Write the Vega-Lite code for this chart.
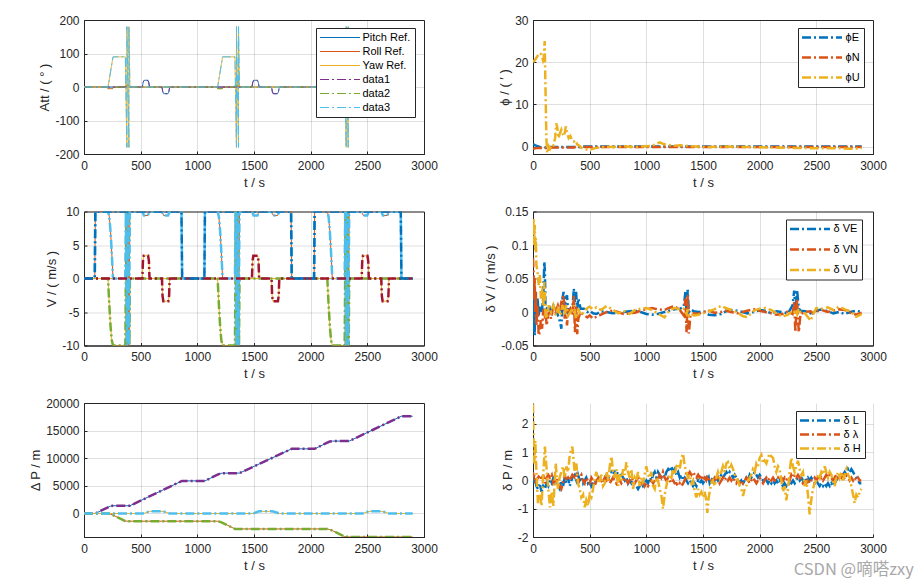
{
"$schema":"https://vega.github.io/schema/vega-lite/v6.json",
"padding":{"left":29,"top":13,"right":5,"bottom":5},
"columns":2,
"spacing":{"row":57.5,"column":109},
"bounds":"flush",
"title":{"text":"CSDN @嘀嗒zxy","orient":"bottom","anchor":"end","font":"Noto Sans CJK SC","fontSize":16.5,"fontWeight":"normal","color":"#a8a8a8","offset":-11,"dx":27},
"resolve":{"scale":{"color":"independent","strokeDash":"independent","strokeWidth":"independent"},"legend":{"color":"independent","strokeDash":"independent","strokeWidth":"independent"}},
"config":{
 "font":"Liberation Sans",
 "locale":{"number":{"decimal":".","thousands":",","grouping":[3],"currency":["$",""],"minus":"-"}},
 "view":{"stroke":"#262626","strokeWidth":1},
 "axis":{"domainColor":"#262626","tickColor":"#262626","labelColor":"#262626","titleColor":"#262626","labelFontSize":12,"titleFontSize":13,"titleFontWeight":"normal","gridColor":"#262626","gridOpacity":0.15,"tickSize":-3,"grid":true,"labelFlush":false,"labelOverlap":false},
 "axisX":{"labelPadding":9,"titlePadding":5},
 "axisY":{"labelPadding":8,"titlePadding":3},
 "legend":{"orient":"none","fillColor":"#ffffff","strokeColor":"#262626","labelFontSize":11,"labelColor":"#000000","padding":4,"symbolType":"M0,0L10,0","symbolSize":64,"symbolOffset":-5.5,"labelOffset":38},
 "line":{"strokeCap":"butt"}
},
"datasets":{
"att":[
{"t":0,"s":"Pitch Ref.","v":0},{"t":515,"s":"Pitch Ref.","v":0},{"t":522,"s":"Pitch Ref.","v":14},{"t":530,"s":"Pitch Ref.","v":20},{"t":563,"s":"Pitch Ref.","v":20},{"t":571,"s":"Pitch Ref.","v":14},{"t":578,"s":"Pitch Ref.","v":0},{"t":688,"s":"Pitch Ref.","v":0},{"t":695,"s":"Pitch Ref.","v":-14},{"t":703,"s":"Pitch Ref.","v":-20},{"t":741,"s":"Pitch Ref.","v":-20},{"t":749,"s":"Pitch Ref.","v":-14},{"t":756,"s":"Pitch Ref.","v":0},{"t":1482,"s":"Pitch Ref.","v":0},{"t":1489,"s":"Pitch Ref.","v":14},{"t":1497,"s":"Pitch Ref.","v":20},{"t":1530,"s":"Pitch Ref.","v":20},{"t":1538,"s":"Pitch Ref.","v":14},{"t":1545,"s":"Pitch Ref.","v":0},{"t":1655,"s":"Pitch Ref.","v":0},{"t":1662,"s":"Pitch Ref.","v":-14},{"t":1670,"s":"Pitch Ref.","v":-20},{"t":1708,"s":"Pitch Ref.","v":-20},{"t":1716,"s":"Pitch Ref.","v":-14},{"t":1723,"s":"Pitch Ref.","v":0},{"t":2450,"s":"Pitch Ref.","v":0},{"t":2457,"s":"Pitch Ref.","v":14},{"t":2465,"s":"Pitch Ref.","v":20},{"t":2498,"s":"Pitch Ref.","v":20},{"t":2506,"s":"Pitch Ref.","v":14},{"t":2513,"s":"Pitch Ref.","v":0},{"t":2623,"s":"Pitch Ref.","v":0},{"t":2630,"s":"Pitch Ref.","v":-14},{"t":2638,"s":"Pitch Ref.","v":-20},{"t":2676,"s":"Pitch Ref.","v":-20},{"t":2684,"s":"Pitch Ref.","v":-14},{"t":2691,"s":"Pitch Ref.","v":0},{"t":2900,"s":"Pitch Ref.","v":0},
{"t":0,"s":"Roll Ref.","v":0},{"t":206,"s":"Roll Ref.","v":0},{"t":212,"s":"Roll Ref.","v":-5},{"t":252,"s":"Roll Ref.","v":-5},{"t":258,"s":"Roll Ref.","v":0},{"t":362,"s":"Roll Ref.","v":0},{"t":367,"s":"Roll Ref.","v":5},{"t":402,"s":"Roll Ref.","v":5},{"t":407,"s":"Roll Ref.","v":0},{"t":1173,"s":"Roll Ref.","v":0},{"t":1179,"s":"Roll Ref.","v":-5},{"t":1219,"s":"Roll Ref.","v":-5},{"t":1225,"s":"Roll Ref.","v":0},{"t":1329,"s":"Roll Ref.","v":0},{"t":1334,"s":"Roll Ref.","v":5},{"t":1369,"s":"Roll Ref.","v":5},{"t":1374,"s":"Roll Ref.","v":0},{"t":2141,"s":"Roll Ref.","v":0},{"t":2147,"s":"Roll Ref.","v":-5},{"t":2187,"s":"Roll Ref.","v":-5},{"t":2193,"s":"Roll Ref.","v":0},{"t":2297,"s":"Roll Ref.","v":0},{"t":2302,"s":"Roll Ref.","v":5},{"t":2337,"s":"Roll Ref.","v":5},{"t":2342,"s":"Roll Ref.","v":0},{"t":2900,"s":"Roll Ref.","v":0},
{"t":0,"s":"Yaw Ref.","v":0},{"t":212,"s":"Yaw Ref.","v":0},{"t":256,"s":"Yaw Ref.","v":90},{"t":365,"s":"Yaw Ref.","v":90},{"t":369.4,"s":"Yaw Ref.","v":0},{"t":373.9,"s":"Yaw Ref.","v":-90},{"t":378.3,"s":"Yaw Ref.","v":-180},{"t":378.4,"s":"Yaw Ref.","v":180},{"t":382.8,"s":"Yaw Ref.","v":90},{"t":387.2,"s":"Yaw Ref.","v":0},{"t":391.7,"s":"Yaw Ref.","v":-90},{"t":396.1,"s":"Yaw Ref.","v":-180},{"t":396.2,"s":"Yaw Ref.","v":180},{"t":400.6,"s":"Yaw Ref.","v":90},{"t":405,"s":"Yaw Ref.","v":0},{"t":1179,"s":"Yaw Ref.","v":0},{"t":1223,"s":"Yaw Ref.","v":90},{"t":1332,"s":"Yaw Ref.","v":90},{"t":1336.4,"s":"Yaw Ref.","v":0},{"t":1340.9,"s":"Yaw Ref.","v":-90},{"t":1345.3,"s":"Yaw Ref.","v":-180},{"t":1345.4,"s":"Yaw Ref.","v":180},{"t":1349.8,"s":"Yaw Ref.","v":90},{"t":1354.2,"s":"Yaw Ref.","v":0},{"t":1358.7,"s":"Yaw Ref.","v":-90},{"t":1363.1,"s":"Yaw Ref.","v":-180},{"t":1363.2,"s":"Yaw Ref.","v":180},{"t":1367.6,"s":"Yaw Ref.","v":90},{"t":1372,"s":"Yaw Ref.","v":0},{"t":2147,"s":"Yaw Ref.","v":0},{"t":2191,"s":"Yaw Ref.","v":90},{"t":2300,"s":"Yaw Ref.","v":90},{"t":2304.4,"s":"Yaw Ref.","v":0},{"t":2308.9,"s":"Yaw Ref.","v":-90},{"t":2313.3,"s":"Yaw Ref.","v":-180},{"t":2313.4,"s":"Yaw Ref.","v":180},{"t":2317.8,"s":"Yaw Ref.","v":90},{"t":2322.2,"s":"Yaw Ref.","v":0},{"t":2326.7,"s":"Yaw Ref.","v":-90},{"t":2331.1,"s":"Yaw Ref.","v":-180},{"t":2331.2,"s":"Yaw Ref.","v":180},{"t":2335.6,"s":"Yaw Ref.","v":90},{"t":2340,"s":"Yaw Ref.","v":0},{"t":2900,"s":"Yaw Ref.","v":0},
{"t":0,"s":"data1","v":0},{"t":515,"s":"data1","v":0},{"t":522,"s":"data1","v":14},{"t":530,"s":"data1","v":20},{"t":563,"s":"data1","v":20},{"t":571,"s":"data1","v":14},{"t":578,"s":"data1","v":0},{"t":688,"s":"data1","v":0},{"t":695,"s":"data1","v":-14},{"t":703,"s":"data1","v":-20},{"t":741,"s":"data1","v":-20},{"t":749,"s":"data1","v":-14},{"t":756,"s":"data1","v":0},{"t":1482,"s":"data1","v":0},{"t":1489,"s":"data1","v":14},{"t":1497,"s":"data1","v":20},{"t":1530,"s":"data1","v":20},{"t":1538,"s":"data1","v":14},{"t":1545,"s":"data1","v":0},{"t":1655,"s":"data1","v":0},{"t":1662,"s":"data1","v":-14},{"t":1670,"s":"data1","v":-20},{"t":1708,"s":"data1","v":-20},{"t":1716,"s":"data1","v":-14},{"t":1723,"s":"data1","v":0},{"t":2450,"s":"data1","v":0},{"t":2457,"s":"data1","v":14},{"t":2465,"s":"data1","v":20},{"t":2498,"s":"data1","v":20},{"t":2506,"s":"data1","v":14},{"t":2513,"s":"data1","v":0},{"t":2623,"s":"data1","v":0},{"t":2630,"s":"data1","v":-14},{"t":2638,"s":"data1","v":-20},{"t":2676,"s":"data1","v":-20},{"t":2684,"s":"data1","v":-14},{"t":2691,"s":"data1","v":0},{"t":2900,"s":"data1","v":0},
{"t":0,"s":"data2","v":0},{"t":206,"s":"data2","v":0},{"t":212,"s":"data2","v":-5},{"t":252,"s":"data2","v":-5},{"t":258,"s":"data2","v":0},{"t":362,"s":"data2","v":0},{"t":367,"s":"data2","v":5},{"t":402,"s":"data2","v":5},{"t":407,"s":"data2","v":0},{"t":1173,"s":"data2","v":0},{"t":1179,"s":"data2","v":-5},{"t":1219,"s":"data2","v":-5},{"t":1225,"s":"data2","v":0},{"t":1329,"s":"data2","v":0},{"t":1334,"s":"data2","v":5},{"t":1369,"s":"data2","v":5},{"t":1374,"s":"data2","v":0},{"t":2141,"s":"data2","v":0},{"t":2147,"s":"data2","v":-5},{"t":2187,"s":"data2","v":-5},{"t":2193,"s":"data2","v":0},{"t":2297,"s":"data2","v":0},{"t":2302,"s":"data2","v":5},{"t":2337,"s":"data2","v":5},{"t":2342,"s":"data2","v":0},{"t":2900,"s":"data2","v":0},
{"t":0,"s":"data3","v":0},{"t":212,"s":"data3","v":0},{"t":256,"s":"data3","v":90},{"t":365,"s":"data3","v":90},{"t":369.4,"s":"data3","v":0},{"t":373.9,"s":"data3","v":-90},{"t":378.3,"s":"data3","v":-180},{"t":378.4,"s":"data3","v":180},{"t":382.8,"s":"data3","v":90},{"t":387.2,"s":"data3","v":0},{"t":391.7,"s":"data3","v":-90},{"t":396.1,"s":"data3","v":-180},{"t":396.2,"s":"data3","v":180},{"t":400.6,"s":"data3","v":90},{"t":405,"s":"data3","v":0},{"t":1179,"s":"data3","v":0},{"t":1223,"s":"data3","v":90},{"t":1332,"s":"data3","v":90},{"t":1336.4,"s":"data3","v":0},{"t":1340.9,"s":"data3","v":-90},{"t":1345.3,"s":"data3","v":-180},{"t":1345.4,"s":"data3","v":180},{"t":1349.8,"s":"data3","v":90},{"t":1354.2,"s":"data3","v":0},{"t":1358.7,"s":"data3","v":-90},{"t":1363.1,"s":"data3","v":-180},{"t":1363.2,"s":"data3","v":180},{"t":1367.6,"s":"data3","v":90},{"t":1372,"s":"data3","v":0},{"t":2147,"s":"data3","v":0},{"t":2191,"s":"data3","v":90},{"t":2300,"s":"data3","v":90},{"t":2304.4,"s":"data3","v":0},{"t":2308.9,"s":"data3","v":-90},{"t":2313.3,"s":"data3","v":-180},{"t":2313.4,"s":"data3","v":180},{"t":2317.8,"s":"data3","v":90},{"t":2322.2,"s":"data3","v":0},{"t":2326.7,"s":"data3","v":-90},{"t":2331.1,"s":"data3","v":-180},{"t":2331.2,"s":"data3","v":180},{"t":2335.6,"s":"data3","v":90},{"t":2340,"s":"data3","v":0},{"t":2900,"s":"data3","v":0}
],
"phi":[
{"t":0,"E":0.6,"N":-0.5,"U":20},{"t":20,"E":0.3,"N":-0.4,"U":20.6},{"t":40,"E":0.1,"N":-0.3,"U":21.5},{"t":60,"E":-0.1,"N":-0.3,"U":22.2},{"t":75,"E":-0.2,"N":-0.3,"U":21.8},{"t":88,"E":-0.2,"N":-0.3,"U":20.5},{"t":95,"E":-0.2,"N":-0.3,"U":21.2},{"t":103,"E":-0.2,"N":-0.3,"U":25},{"t":110,"E":-0.2,"N":-0.3,"U":14},{"t":118,"E":-0.2,"N":-0.3,"U":2},{"t":125,"E":-0.1,"N":-0.3,"U":-1.5},{"t":132,"E":-0.1,"N":-0.3,"U":-1.2},{"t":140,"E":-0.1,"N":-0.3,"U":0},{"t":150,"E":-0.1,"N":-0.3,"U":-0.5},{"t":165,"E":-0.1,"N":-0.2,"U":0.5},{"t":180,"E":-0.1,"N":-0.2,"U":0.3},{"t":195,"E":-0.1,"N":-0.2,"U":2},{"t":205,"E":-0.1,"N":-0.2,"U":5.5},{"t":215,"E":-0.1,"N":-0.2,"U":4.5},{"t":225,"E":-0.1,"N":-0.2,"U":2},{"t":235,"E":-0.1,"N":-0.2,"U":3},{"t":250,"E":-0.1,"N":-0.2,"U":4},{"t":262,"E":-0.1,"N":-0.2,"U":3},{"t":275,"E":-0.1,"N":-0.2,"U":2.5},{"t":290,"E":-0.1,"N":-0.2,"U":4.8},{"t":300,"E":-0.1,"N":-0.2,"U":3.5},{"t":315,"E":-0.1,"N":-0.2,"U":2},{"t":330,"E":-0.1,"N":-0.2,"U":2.5},{"t":345,"E":-0.1,"N":-0.2,"U":1.5},{"t":360,"E":-0.1,"N":-0.2,"U":1.2},{"t":375,"E":-0.1,"N":-0.1,"U":1.5},{"t":390,"E":-0.1,"N":-0.1,"U":0.5},{"t":410,"E":-0.1,"N":-0.1,"U":0.2},{"t":430,"E":0,"N":-0.1,"U":-0.3},{"t":460,"E":0,"N":-0.1,"U":-0.6},{"t":490,"E":0,"N":-0.1,"U":-0.8},{"t":520,"E":0,"N":-0.1,"U":-0.6},{"t":560,"E":0,"N":-0.1,"U":-0.3},{"t":600,"E":0,"N":-0.1,"U":-0.2},{"t":650,"E":0,"N":-0.1,"U":0},{"t":700,"E":0,"N":-0.1,"U":-0.1},{"t":800,"E":0,"N":-0.1,"U":0.1},{"t":900,"E":0,"N":-0.1,"U":-0.1},{"t":1000,"E":0,"N":-0.1,"U":0.1},{"t":1050,"E":0,"N":-0.1,"U":0.2},{"t":1100,"E":0,"N":-0.1,"U":0.8},{"t":1120,"E":0,"N":-0.1,"U":1.0},{"t":1150,"E":0,"N":-0.1,"U":0.6},{"t":1200,"E":0,"N":-0.1,"U":0.4},{"t":1250,"E":0,"N":-0.1,"U":0.2},{"t":1300,"E":0,"N":-0.1,"U":0.3},{"t":1400,"E":0,"N":-0.1,"U":0.1},{"t":1500,"E":0,"N":-0.1,"U":-0.1},{"t":1700,"E":0,"N":-0.1,"U":0},{"t":1900,"E":0,"N":-0.1,"U":-0.1},{"t":2100,"E":0,"N":-0.1,"U":-0.2},{"t":2300,"E":0,"N":-0.1,"U":-0.3},{"t":2500,"E":0,"N":-0.1,"U":-0.4},{"t":2700,"E":0,"N":-0.1,"U":-0.4},{"t":2800,"E":0,"N":-0.1,"U":-0.5},{"t":2900,"E":0,"N":-0.1,"U":-0.4}
],
"vel":[
{"t":0,"s":"VE","v":0},{"t":212,"s":"VE","v":0},{"t":223,"s":"VE","v":-3.83},{"t":234,"s":"VE","v":-7.07},{"t":245,"s":"VE","v":-9.24},{"t":256,"s":"VE","v":-10},{"t":365,"s":"VE","v":-10},{"t":369.4,"s":"VE","v":0},{"t":373.9,"s":"VE","v":10},{"t":378.3,"s":"VE","v":0},{"t":382.8,"s":"VE","v":-10},{"t":387.2,"s":"VE","v":0},{"t":391.7,"s":"VE","v":10},{"t":396.1,"s":"VE","v":0},{"t":400.6,"s":"VE","v":-10},{"t":405,"s":"VE","v":0},
{"t":1179,"s":"VE","v":0},{"t":1190,"s":"VE","v":-3.83},{"t":1201,"s":"VE","v":-7.07},{"t":1212,"s":"VE","v":-9.24},{"t":1223,"s":"VE","v":-10},{"t":1332,"s":"VE","v":-10},{"t":1336.4,"s":"VE","v":0},{"t":1340.9,"s":"VE","v":10},{"t":1345.3,"s":"VE","v":0},{"t":1349.8,"s":"VE","v":-10},{"t":1354.2,"s":"VE","v":0},{"t":1358.7,"s":"VE","v":10},{"t":1363.1,"s":"VE","v":0},{"t":1367.6,"s":"VE","v":-10},{"t":1372,"s":"VE","v":0},
{"t":2147,"s":"VE","v":0},{"t":2158,"s":"VE","v":-3.83},{"t":2169,"s":"VE","v":-7.07},{"t":2180,"s":"VE","v":-9.24},{"t":2191,"s":"VE","v":-10},{"t":2300,"s":"VE","v":-10},{"t":2304.4,"s":"VE","v":0},{"t":2308.9,"s":"VE","v":10},{"t":2313.3,"s":"VE","v":0},{"t":2317.8,"s":"VE","v":-10},{"t":2322.2,"s":"VE","v":0},{"t":2326.7,"s":"VE","v":10},{"t":2331.1,"s":"VE","v":0},{"t":2335.6,"s":"VE","v":-10},{"t":2340,"s":"VE","v":0},{"t":2900,"s":"VE","v":0},
{"t":0,"s":"VN","v":0},{"t":95,"s":"VN","v":0},{"t":100,"s":"VN","v":10},{"t":212,"s":"VN","v":10},{"t":223,"s":"VN","v":9.24},{"t":234,"s":"VN","v":7.07},{"t":245,"s":"VN","v":3.83},{"t":256,"s":"VN","v":0},{"t":365,"s":"VN","v":0},{"t":369.4,"s":"VN","v":10},{"t":373.9,"s":"VN","v":0},{"t":378.3,"s":"VN","v":-10},{"t":382.8,"s":"VN","v":0},{"t":387.2,"s":"VN","v":10},{"t":391.7,"s":"VN","v":0},{"t":396.1,"s":"VN","v":-10},{"t":400.6,"s":"VN","v":0},{"t":405,"s":"VN","v":10},{"t":515,"s":"VN","v":10},{"t":522,"s":"VN","v":9.7},{"t":530,"s":"VN","v":9.4},{"t":563,"s":"VN","v":9.4},{"t":571,"s":"VN","v":9.7},{"t":578,"s":"VN","v":10},{"t":688,"s":"VN","v":10},{"t":695,"s":"VN","v":9.7},{"t":703,"s":"VN","v":9.4},{"t":741,"s":"VN","v":9.4},{"t":749,"s":"VN","v":9.7},{"t":756,"s":"VN","v":10},{"t":860,"s":"VN","v":10},{"t":866,"s":"VN","v":0},
{"t":1062,"s":"VN","v":0},{"t":1067,"s":"VN","v":10},{"t":1179,"s":"VN","v":10},{"t":1190,"s":"VN","v":9.24},{"t":1201,"s":"VN","v":7.07},{"t":1212,"s":"VN","v":3.83},{"t":1223,"s":"VN","v":0},{"t":1332,"s":"VN","v":0},{"t":1336.4,"s":"VN","v":10},{"t":1340.9,"s":"VN","v":0},{"t":1345.3,"s":"VN","v":-10},{"t":1349.8,"s":"VN","v":0},{"t":1354.2,"s":"VN","v":10},{"t":1358.7,"s":"VN","v":0},{"t":1363.1,"s":"VN","v":-10},{"t":1367.6,"s":"VN","v":0},{"t":1372,"s":"VN","v":10},{"t":1482,"s":"VN","v":10},{"t":1489,"s":"VN","v":9.7},{"t":1497,"s":"VN","v":9.4},{"t":1530,"s":"VN","v":9.4},{"t":1538,"s":"VN","v":9.7},{"t":1545,"s":"VN","v":10},{"t":1655,"s":"VN","v":10},{"t":1662,"s":"VN","v":9.7},{"t":1670,"s":"VN","v":9.4},{"t":1708,"s":"VN","v":9.4},{"t":1716,"s":"VN","v":9.7},{"t":1723,"s":"VN","v":10},{"t":1827,"s":"VN","v":10},{"t":1833,"s":"VN","v":0},
{"t":2030,"s":"VN","v":0},{"t":2035,"s":"VN","v":10},{"t":2147,"s":"VN","v":10},{"t":2158,"s":"VN","v":9.24},{"t":2169,"s":"VN","v":7.07},{"t":2180,"s":"VN","v":3.83},{"t":2191,"s":"VN","v":0},{"t":2300,"s":"VN","v":0},{"t":2304.4,"s":"VN","v":10},{"t":2308.9,"s":"VN","v":0},{"t":2313.3,"s":"VN","v":-10},{"t":2317.8,"s":"VN","v":0},{"t":2322.2,"s":"VN","v":10},{"t":2326.7,"s":"VN","v":0},{"t":2331.1,"s":"VN","v":-10},{"t":2335.6,"s":"VN","v":0},{"t":2340,"s":"VN","v":10},{"t":2450,"s":"VN","v":10},{"t":2457,"s":"VN","v":9.7},{"t":2465,"s":"VN","v":9.4},{"t":2498,"s":"VN","v":9.4},{"t":2506,"s":"VN","v":9.7},{"t":2513,"s":"VN","v":10},{"t":2623,"s":"VN","v":10},{"t":2630,"s":"VN","v":9.7},{"t":2638,"s":"VN","v":9.4},{"t":2676,"s":"VN","v":9.4},{"t":2684,"s":"VN","v":9.7},{"t":2691,"s":"VN","v":10},{"t":2795,"s":"VN","v":10},{"t":2801,"s":"VN","v":0},{"t":2900,"s":"VN","v":0},
{"t":0,"s":"VU","v":0},{"t":515,"s":"VU","v":0},{"t":520,"s":"VU","v":2.6},{"t":527,"s":"VU","v":3.4},{"t":566,"s":"VU","v":3.4},{"t":573,"s":"VU","v":2.6},{"t":578,"s":"VU","v":0},{"t":688,"s":"VU","v":0},{"t":693,"s":"VU","v":-2.6},{"t":700,"s":"VU","v":-3.4},{"t":744,"s":"VU","v":-3.4},{"t":751,"s":"VU","v":-2.6},{"t":756,"s":"VU","v":0},
{"t":1482,"s":"VU","v":0},{"t":1487,"s":"VU","v":2.6},{"t":1494,"s":"VU","v":3.4},{"t":1533,"s":"VU","v":3.4},{"t":1540,"s":"VU","v":2.6},{"t":1545,"s":"VU","v":0},{"t":1655,"s":"VU","v":0},{"t":1660,"s":"VU","v":-2.6},{"t":1667,"s":"VU","v":-3.4},{"t":1711,"s":"VU","v":-3.4},{"t":1718,"s":"VU","v":-2.6},{"t":1723,"s":"VU","v":0},
{"t":2450,"s":"VU","v":0},{"t":2455,"s":"VU","v":2.6},{"t":2462,"s":"VU","v":3.4},{"t":2501,"s":"VU","v":3.4},{"t":2508,"s":"VU","v":2.6},{"t":2513,"s":"VU","v":0},{"t":2623,"s":"VU","v":0},{"t":2628,"s":"VU","v":-2.6},{"t":2635,"s":"VU","v":-3.4},{"t":2679,"s":"VU","v":-3.4},{"t":2686,"s":"VU","v":-2.6},{"t":2691,"s":"VU","v":0},{"t":2900,"s":"VU","v":0},
{"t":0,"s":"S","v":0},{"t":95,"s":"S","v":0},{"t":100,"s":"S","v":10},{"t":860,"s":"S","v":10},{"t":866,"s":"S","v":0},{"t":1062,"s":"S","v":0},{"t":1067,"s":"S","v":10},{"t":1827,"s":"S","v":10},{"t":1833,"s":"S","v":0},{"t":2030,"s":"S","v":0},{"t":2035,"s":"S","v":10},{"t":2795,"s":"S","v":10},{"t":2801,"s":"S","v":0},{"t":2900,"s":"S","v":0}
],
"dv":[
{"t":0,"E":0.02,"N":0.08,"U":0.10},{"t":5,"E":-0.03,"N":0.06,"U":0.14},{"t":10,"E":0.04,"N":0.02,"U":0.10},{"t":15,"E":-0.035,"N":0.05,"U":0.13},{"t":20,"E":0.01,"N":0.0,"U":0.09},{"t":25,"E":0.03,"N":0.03,"U":0.11},{"t":30,"E":-0.01,"N":-0.02,"U":0.07},{"t":40,"E":0.02,"N":0.01,"U":0.06},{"t":50,"E":-0.005,"N":-0.035,"U":0.04},{"t":60,"E":0.01,"N":-0.03,"U":0.055},{"t":70,"E":0.0,"N":-0.01,"U":0.02},{"t":80,"E":0.005,"N":-0.025,"U":0.035},{"t":90,"E":0.02,"N":0.0,"U":0.01},{"t":100,"E":0.075,"N":0.005,"U":0.045},{"t":105,"E":0.06,"N":-0.01,"U":0.03},{"t":110,"E":0.01,"N":0.005,"U":-0.005},{"t":120,"E":0.005,"N":-0.02,"U":-0.01},{"t":140,"E":0.01,"N":0.0,"U":0.01},{"t":160,"E":0.0,"N":-0.01,"U":0.0},{"t":180,"E":0.01,"N":0.01,"U":0.01},{"t":200,"E":0.005,"N":0.0,"U":-0.005},{"t":220,"E":-0.005,"N":0.01,"U":0.005},{"t":240,"E":-0.015,"N":0.0,"U":-0.005},{"t":250,"E":-0.025,"N":0.015,"U":0.0},{"t":260,"E":0.02,"N":0.02,"U":0.01},{"t":270,"E":0.03,"N":0.025,"U":0.005},{"t":280,"E":0.005,"N":-0.01,"U":-0.005},{"t":290,"E":0.02,"N":0.01,"U":0.01},{"t":300,"E":0.025,"N":-0.02,"U":0.005},{"t":310,"E":0.0,"N":0.0,"U":-0.005},{"t":330,"E":0.005,"N":0.005,"U":0.0},{"t":350,"E":0.01,"N":-0.005,"U":0.005},{"t":360,"E":0.035,"N":0.025,"U":0.01},{"t":370,"E":0.015,"N":-0.03,"U":0.0},{"t":380,"E":0.03,"N":0.01,"U":-0.01},{"t":390,"E":0.005,"N":-0.033,"U":-0.005},{"t":400,"E":0.02,"N":-0.01,"U":0.005},{"t":420,"E":0.005,"N":0.0,"U":-0.005},{"t":450,"E":0.005,"N":-0.005,"U":0.0},{"t":480,"E":0.0,"N":-0.008,"U":0.006},{"t":500,"E":0.002,"N":-0.005,"U":0.008},{"t":530,"E":-0.002,"N":-0.01,"U":0.004},{"t":560,"E":-0.003,"N":-0.007,"U":0.007},{"t":600,"E":0.001,"N":-0.004,"U":0.003},{"t":650,"E":0.0,"N":0.0,"U":0.009},{"t":700,"E":-0.002,"N":0.002,"U":0.004},{"t":750,"E":-0.001,"N":0.0,"U":-0.002},{"t":800,"E":0.0,"N":-0.003,"U":0.002},{"t":850,"E":0.001,"N":-0.002,"U":-0.003},{"t":900,"E":0.002,"N":-0.001,"U":0.003},{"t":950,"E":0.0,"N":0.002,"U":0.005},{"t":1000,"E":-0.003,"N":0.004,"U":0.006},{"t":1050,"E":-0.004,"N":0.006,"U":0.003},{"t":1100,"E":-0.003,"N":0.004,"U":-0.002},{"t":1160,"E":0.0,"N":0.003,"U":-0.008},{"t":1200,"E":0.002,"N":0.006,"U":0.002},{"t":1250,"E":0.004,"N":0.009,"U":0.006},{"t":1300,"E":0.005,"N":0.002,"U":0.004},{"t":1330,"E":0.008,"N":-0.005,"U":0.005},{"t":1345,"E":0.03,"N":0.02,"U":0.0},{"t":1355,"E":-0.005,"N":-0.03,"U":-0.003},{"t":1365,"E":0.033,"N":0.025,"U":0.004},{"t":1375,"E":0.0,"N":-0.032,"U":-0.005},{"t":1390,"E":0.004,"N":-0.004,"U":-0.002},{"t":1420,"E":0.001,"N":-0.002,"U":-0.005},{"t":1460,"E":0.0,"N":-0.003,"U":-0.004},{"t":1500,"E":0.001,"N":0.0,"U":-0.002},{"t":1550,"E":-0.004,"N":0.002,"U":0.001},{"t":1600,"E":-0.005,"N":-0.001,"U":0.004},{"t":1660,"E":-0.003,"N":0.0,"U":0.009},{"t":1700,"E":0.001,"N":0.002,"U":0.006},{"t":1750,"E":0.003,"N":0.0,"U":0.003},{"t":1800,"E":0.002,"N":-0.002,"U":0.0},{"t":1850,"E":0.0,"N":0.0,"U":-0.006},{"t":1890,"E":-0.002,"N":0.002,"U":-0.008},{"t":1950,"E":0.0,"N":0.004,"U":0.002},{"t":2000,"E":0.003,"N":0.002,"U":0.005},{"t":2050,"E":0.002,"N":0.0,"U":0.006},{"t":2100,"E":-0.002,"N":-0.002,"U":0.003},{"t":2150,"E":0.001,"N":-0.004,"U":-0.002},{"t":2200,"E":0.0,"N":-0.003,"U":-0.007},{"t":2250,"E":-0.002,"N":0.001,"U":-0.004},{"t":2290,"E":0.01,"N":-0.003,"U":0.002},{"t":2305,"E":0.032,"N":0.015,"U":0.0},{"t":2315,"E":0.0,"N":-0.03,"U":0.004},{"t":2330,"E":0.033,"N":0.02,"U":-0.003},{"t":2345,"E":0.005,"N":-0.03,"U":0.005},{"t":2360,"E":0.002,"N":-0.003,"U":0.0},{"t":2400,"E":0.001,"N":0.0,"U":-0.002},{"t":2450,"E":-0.002,"N":0.001,"U":-0.013},{"t":2470,"E":0.0,"N":-0.002,"U":-0.004},{"t":2500,"E":0.002,"N":0.001,"U":0.006},{"t":2550,"E":0.004,"N":0.003,"U":0.005},{"t":2600,"E":0.001,"N":0.0,"U":0.007},{"t":2650,"E":-0.002,"N":0.002,"U":0.003},{"t":2700,"E":0.0,"N":0.004,"U":0.008},{"t":2750,"E":-0.003,"N":0.003,"U":0.004},{"t":2800,"E":0.0,"N":-0.001,"U":0.001},{"t":2850,"E":0.002,"N":-0.004,"U":-0.007},{"t":2900,"E":0.0,"N":-0.001,"U":-0.003}
],
"pos":[
{"t":0,"s":"Pn","v":0},{"t":100,"s":"Pn","v":0},{"t":212,"s":"Pn","v":1120},{"t":234,"s":"Pn","v":1330},{"t":256,"s":"Pn","v":1400},{"t":405,"s":"Pn","v":1400},{"t":865,"s":"Pn","v":5900},{"t":1067,"s":"Pn","v":5900},{"t":1179,"s":"Pn","v":7020},{"t":1201,"s":"Pn","v":7230},{"t":1223,"s":"Pn","v":7300},{"t":1372,"s":"Pn","v":7300},{"t":1832,"s":"Pn","v":11700},{"t":2035,"s":"Pn","v":11700},{"t":2147,"s":"Pn","v":12820},{"t":2169,"s":"Pn","v":13030},{"t":2191,"s":"Pn","v":13100},{"t":2340,"s":"Pn","v":13100},{"t":2800,"s":"Pn","v":17600},{"t":2900,"s":"Pn","v":17600},
{"t":0,"s":"Pe","v":0},{"t":212,"s":"Pe","v":0},{"t":234,"s":"Pe","v":-120},{"t":256,"s":"Pe","v":-300},{"t":365,"s":"Pe","v":-1390},{"t":405,"s":"Pe","v":-1400},{"t":1179,"s":"Pe","v":-1400},{"t":1201,"s":"Pe","v":-1520},{"t":1223,"s":"Pe","v":-1700},{"t":1332,"s":"Pe","v":-2790},{"t":1372,"s":"Pe","v":-2800},{"t":2147,"s":"Pe","v":-2800},{"t":2169,"s":"Pe","v":-2920},{"t":2191,"s":"Pe","v":-3100},{"t":2300,"s":"Pe","v":-4190},{"t":2340,"s":"Pe","v":-4250},{"t":2900,"s":"Pe","v":-4250},
{"t":0,"s":"Pu","v":0},{"t":515,"s":"Pu","v":0},{"t":530,"s":"Pu","v":30},{"t":578,"s":"Pu","v":380},{"t":688,"s":"Pu","v":380},{"t":703,"s":"Pu","v":350},{"t":756,"s":"Pu","v":0},{"t":1482,"s":"Pu","v":0},{"t":1497,"s":"Pu","v":30},{"t":1545,"s":"Pu","v":380},{"t":1655,"s":"Pu","v":380},{"t":1670,"s":"Pu","v":350},{"t":1723,"s":"Pu","v":0},{"t":2450,"s":"Pu","v":0},{"t":2465,"s":"Pu","v":30},{"t":2513,"s":"Pu","v":380},{"t":2623,"s":"Pu","v":380},{"t":2638,"s":"Pu","v":350},{"t":2691,"s":"Pu","v":0},{"t":2900,"s":"Pu","v":0}
],
"dp":[
{"t":0,"L":0.2,"l":0.3,"H":2.7},{"t":5,"L":0.1,"l":0.1,"H":1.5},{"t":12,"L":-0.1,"l":0.2,"H":0.6},{"t":20,"L":0.1,"l":-0.1,"H":1.4},{"t":30,"L":-0.2,"l":0.0,"H":0.3},{"t":44,"L":-0.3,"l":0.1,"H":-0.8},{"t":60,"L":-0.1,"l":0.2,"H":-0.5},{"t":75,"L":-0.4,"l":0.0,"H":-0.9},{"t":90,"L":-0.2,"l":0.2,"H":0.2},{"t":105,"L":-0.3,"l":-0.1,"H":1.2},{"t":120,"L":-0.1,"l":0.1,"H":0.4},{"t":135,"L":-0.2,"l":0.2,"H":-0.3},{"t":150,"L":0.0,"l":0.1,"H":-0.95},{"t":165,"L":-0.1,"l":0.2,"H":-0.4},{"t":180,"L":0.1,"l":-0.1,"H":-0.9},{"t":200,"L":0.0,"l":0.0,"H":0.6},{"t":220,"L":-0.2,"l":0.1,"H":-0.3},{"t":235,"L":-0.3,"l":-0.2,"H":0.1},{"t":250,"L":0.0,"l":-0.3,"H":0.3},{"t":265,"L":-0.2,"l":-0.1,"H":0.5},{"t":280,"L":0.1,"l":0.2,"H":0.1},{"t":295,"L":-0.1,"l":0.0,"H":0.5},{"t":310,"L":0.1,"l":0.1,"H":0.3},{"t":324,"L":-0.2,"l":0.0,"H":0.9},{"t":347,"L":0.1,"l":0.2,"H":1.2},{"t":368,"L":0.2,"l":0.1,"H":0.3},{"t":383,"L":0.0,"l":0.2,"H":0.6},{"t":397,"L":0.2,"l":-0.1,"H":-0.1},{"t":412,"L":0.0,"l":0.1,"H":-0.3},{"t":427,"L":0.1,"l":0.2,"H":-0.6},{"t":442,"L":-0.1,"l":0.0,"H":-0.5},{"t":456,"L":0.0,"l":-0.1,"H":-0.95},{"t":470,"L":0.1,"l":0.1,"H":-0.7},{"t":485,"L":-0.1,"l":0.0,"H":-0.9},{"t":500,"L":0.0,"l":-0.1,"H":-0.5},{"t":515,"L":-0.2,"l":0.1,"H":-0.6},{"t":530,"L":-0.1,"l":0.0,"H":-0.3},{"t":545,"L":0.0,"l":-0.2,"H":0.1},{"t":560,"L":-0.1,"l":0.0,"H":0.3},{"t":580,"L":0.1,"l":0.1,"H":-0.1},{"t":603,"L":0.0,"l":0.0,"H":0.2},{"t":618,"L":0.1,"l":-0.1,"H":-0.2},{"t":633,"L":0.0,"l":0.1,"H":-0.1},{"t":650,"L":0.2,"l":0.0,"H":0.3},{"t":665,"L":0.1,"l":0.1,"H":0.0},{"t":677,"L":0.2,"l":-0.1,"H":0.5},{"t":692,"L":0.3,"l":0.0,"H":0.85},{"t":706,"L":0.2,"l":0.1,"H":0.3},{"t":721,"L":0.3,"l":0.0,"H":0.1},{"t":735,"L":0.2,"l":-0.1,"H":0.4},{"t":750,"L":0.3,"l":0.1,"H":-0.2},{"t":765,"L":0.1,"l":0.0,"H":0.2},{"t":780,"L":0.2,"l":-0.1,"H":0.0},{"t":795,"L":0.1,"l":0.0,"H":0.4},{"t":810,"L":0.0,"l":0.1,"H":0.2},{"t":824,"L":0.1,"l":0.0,"H":0.65},{"t":838,"L":-0.1,"l":-0.1,"H":0.3},{"t":853,"L":0.0,"l":0.0,"H":0.1},{"t":868,"L":-0.1,"l":0.1,"H":0.4},{"t":883,"L":0.0,"l":0.0,"H":-0.3},{"t":898,"L":-0.1,"l":-0.1,"H":0.1},{"t":912,"L":-0.2,"l":0.0,"H":0.0},{"t":927,"L":-0.3,"l":0.1,"H":0.3},{"t":941,"L":-0.2,"l":0.0,"H":-0.2},{"t":956,"L":-0.1,"l":-0.1,"H":0.1},{"t":970,"L":-0.2,"l":0.0,"H":-0.1},{"t":985,"L":-0.1,"l":-0.2,"H":0.2},{"t":1000,"L":0.0,"l":-0.1,"H":0.5},{"t":1015,"L":-0.1,"l":-0.2,"H":0.2},{"t":1030,"L":0.1,"l":-0.1,"H":0.1},{"t":1045,"L":0.0,"l":0.0,"H":0.3},{"t":1060,"L":0.2,"l":-0.1,"H":-0.2},{"t":1074,"L":0.3,"l":0.0,"H":-0.3},{"t":1089,"L":0.1,"l":0.1,"H":0.1},{"t":1103,"L":0.3,"l":0.0,"H":0.0},{"t":1118,"L":0.2,"l":0.2,"H":-0.3},{"t":1132,"L":0.1,"l":0.1,"H":-0.5},{"t":1147,"L":0.2,"l":0.3,"H":-1.0},{"t":1162,"L":0.1,"l":0.1,"H":-0.5},{"t":1177,"L":0.3,"l":0.0,"H":-0.2},{"t":1192,"L":0.4,"l":0.1,"H":0.1},{"t":1206,"L":0.3,"l":0.0,"H":0.2},{"t":1221,"L":0.5,"l":-0.1,"H":0.1},{"t":1236,"L":0.3,"l":0.0,"H":0.4},{"t":1250,"L":0.4,"l":-0.1,"H":0.2},{"t":1265,"L":0.2,"l":-0.1,"H":0.5},{"t":1280,"L":0.3,"l":-0.2,"H":0.6},{"t":1295,"L":0.1,"l":-0.1,"H":0.4},{"t":1310,"L":0.2,"l":-0.2,"H":0.8},{"t":1324,"L":0.0,"l":-0.1,"H":0.95},{"t":1339,"L":0.1,"l":0.0,"H":0.5},{"t":1353,"L":0.0,"l":0.3,"H":0.3},{"t":1368,"L":-0.1,"l":0.2,"H":0.1},{"t":1383,"L":0.0,"l":0.3,"H":0.2},{"t":1398,"L":-0.1,"l":0.2,"H":-0.1},{"t":1412,"L":-0.2,"l":0.3,"H":0.0},{"t":1427,"L":-0.1,"l":0.2,"H":-0.4},{"t":1442,"L":-0.2,"l":0.1,"H":-0.6},{"t":1457,"L":0.0,"l":0.2,"H":-0.3},{"t":1471,"L":-0.1,"l":0.1,"H":-0.5},{"t":1486,"L":0.0,"l":0.2,"H":-0.4},{"t":1500,"L":-0.1,"l":0.0,"H":-0.6},{"t":1515,"L":0.0,"l":0.1,"H":-0.4},{"t":1529,"L":0.1,"l":0.0,"H":-0.7},{"t":1538,"L":0.0,"l":0.1,"H":-1.15},{"t":1550,"L":0.1,"l":0.0,"H":-0.6},{"t":1559,"L":-0.1,"l":0.1,"H":-0.4},{"t":1574,"L":0.0,"l":0.0,"H":-0.1},{"t":1588,"L":0.1,"l":0.0,"H":0.0},{"t":1603,"L":0.0,"l":0.1,"H":-0.2},{"t":1618,"L":0.1,"l":0.0,"H":0.1},{"t":1632,"L":0.0,"l":0.1,"H":0.3},{"t":1647,"L":0.1,"l":-0.1,"H":0.1},{"t":1662,"L":0.2,"l":0.0,"H":0.3},{"t":1676,"L":0.1,"l":0.1,"H":0.5},{"t":1691,"L":0.2,"l":0.0,"H":0.3},{"t":1706,"L":0.3,"l":0.1,"H":0.6},{"t":1720,"L":0.2,"l":0.0,"H":0.65},{"t":1735,"L":0.3,"l":0.1,"H":0.4},{"t":1750,"L":0.2,"l":0.0,"H":0.55},{"t":1765,"L":0.1,"l":0.1,"H":0.4},{"t":1780,"L":0.2,"l":0.0,"H":0.2},{"t":1794,"L":0.1,"l":-0.1,"H":0.1},{"t":1809,"L":0.0,"l":0.0,"H":0.0},{"t":1824,"L":-0.1,"l":-0.1,"H":-0.2},{"t":1838,"L":0.0,"l":0.0,"H":-0.3},{"t":1853,"L":-0.1,"l":-0.1,"H":-0.55},{"t":1868,"L":0.0,"l":0.0,"H":-0.3},{"t":1882,"L":0.1,"l":0.1,"H":-0.2},{"t":1897,"L":0.0,"l":0.0,"H":0.0},{"t":1912,"L":0.2,"l":-0.1,"H":0.1},{"t":1926,"L":0.1,"l":0.0,"H":0.2},{"t":1941,"L":0.2,"l":0.1,"H":0.4},{"t":1956,"L":0.3,"l":0.0,"H":0.3},{"t":1971,"L":0.2,"l":-0.1,"H":0.6},{"t":1985,"L":0.1,"l":0.0,"H":0.5},{"t":2000,"L":0.2,"l":0.1,"H":0.8},{"t":2015,"L":0.1,"l":0.0,"H":0.9},{"t":2030,"L":0.0,"l":-0.1,"H":0.6},{"t":2044,"L":0.1,"l":0.0,"H":0.7},{"t":2059,"L":0.0,"l":0.1,"H":0.6},{"t":2074,"L":-0.1,"l":0.0,"H":0.8},{"t":2088,"L":0.0,"l":0.1,"H":0.95},{"t":2103,"L":-0.1,"l":0.0,"H":0.85},{"t":2118,"L":0.0,"l":0.1,"H":0.8},{"t":2132,"L":-0.1,"l":0.0,"H":0.5},{"t":2147,"L":0.0,"l":0.0,"H":0.3},{"t":2162,"L":-0.1,"l":0.1,"H":0.5},{"t":2176,"L":0.0,"l":0.0,"H":0.4},{"t":2191,"L":-0.1,"l":0.1,"H":0.0},{"t":2206,"L":-0.2,"l":0.0,"H":-0.4},{"t":2220,"L":-0.1,"l":0.1,"H":-0.2},{"t":2235,"L":-0.2,"l":0.0,"H":-0.7},{"t":2250,"L":-0.1,"l":0.1,"H":-0.3},{"t":2264,"L":-0.2,"l":0.0,"H":0.3},{"t":2279,"L":-0.1,"l":0.2,"H":0.8},{"t":2294,"L":0.0,"l":0.1,"H":0.5},{"t":2309,"L":-0.1,"l":0.2,"H":0.3},{"t":2323,"L":0.0,"l":0.1,"H":0.5},{"t":2338,"L":0.1,"l":0.2,"H":0.7},{"t":2353,"L":0.0,"l":0.1,"H":0.4},{"t":2368,"L":0.1,"l":0.0,"H":0.2},{"t":2382,"L":0.0,"l":-0.1,"H":0.3},{"t":2397,"L":0.1,"l":0.0,"H":-0.2},{"t":2412,"L":0.0,"l":-0.1,"H":0.0},{"t":2426,"L":0.1,"l":0.0,"H":-0.5},{"t":2441,"L":0.0,"l":-0.1,"H":-1.2},{"t":2455,"L":0.1,"l":0.0,"H":-0.7},{"t":2470,"L":0.0,"l":0.0,"H":-0.3},{"t":2485,"L":-0.1,"l":0.1,"H":-0.1},{"t":2500,"L":0.0,"l":0.0,"H":0.0},{"t":2514,"L":-0.1,"l":0.1,"H":0.2},{"t":2529,"L":-0.2,"l":0.0,"H":0.1},{"t":2544,"L":-0.1,"l":0.1,"H":0.3},{"t":2559,"L":-0.2,"l":0.0,"H":0.2},{"t":2574,"L":-0.1,"l":0.1,"H":0.5},{"t":2588,"L":-0.2,"l":0.2,"H":0.3},{"t":2603,"L":-0.1,"l":0.1,"H":0.1},{"t":2618,"L":-0.2,"l":0.2,"H":0.3},{"t":2632,"L":-0.1,"l":0.1,"H":0.2},{"t":2647,"L":-0.2,"l":0.0,"H":0.0},{"t":2662,"L":-0.1,"l":0.1,"H":-0.2},{"t":2676,"L":0.0,"l":0.2,"H":0.1},{"t":2691,"L":0.1,"l":0.1,"H":0.3},{"t":2706,"L":0.2,"l":0.2,"H":0.1},{"t":2720,"L":0.1,"l":0.1,"H":0.3},{"t":2735,"L":0.2,"l":0.2,"H":0.0},{"t":2750,"L":0.3,"l":0.1,"H":0.2},{"t":2765,"L":0.2,"l":0.2,"H":0.4},{"t":2780,"L":0.4,"l":0.1,"H":0.2},{"t":2794,"L":0.3,"l":0.0,"H":0.1},{"t":2809,"L":0.4,"l":0.1,"H":-0.2},{"t":2824,"L":0.3,"l":0.0,"H":-0.5},{"t":2838,"L":0.2,"l":0.1,"H":-0.8},{"t":2853,"L":0.1,"l":0.0,"H":-0.5},{"t":2868,"L":0.0,"l":0.1,"H":-0.6},{"t":2883,"L":-0.1,"l":0.0,"H":-0.4},{"t":2897,"L":-0.1,"l":0.0,"H":-0.3}
]
},
"concat":[
{
 "width":340,"height":134,
 "data":{"name":"att"},
 "mark":{"type":"line","clip":true},
 "encoding":{
  "x":{"field":"t","type":"quantitative","scale":{"domain":[0,3000],"nice":false,"zero":false},"axis":{"values":[0,500,1000,1500,2000,2500,3000],"format":"d","title":"t  / s"}},
  "y":{"field":"v","type":"quantitative","scale":{"domain":[-200,200],"nice":false},"axis":{"values":[-200,-100,0,100,200],"format":"d","title":"Att / ( ° )"}},
  "color":{"field":"s","type":"nominal","scale":{"domain":["Pitch Ref.","Roll Ref.","Yaw Ref.","data1","data2","data3"],"range":["#0072BD","#D95319","#EDB120","#7E2F8E","#77AC30","#4DBEEE"]},"legend":{"title":null,"legendX":232,"legendY":8,"rowPadding":2,"labelOffset":37,"symbolStrokeWidth":{"expr":"indexof(['data1','data2','data3'], datum.value) >= 0 ? 2.5 : 1"}}},
  "strokeDash":{"field":"s","type":"nominal","scale":{"domain":["Pitch Ref.","Roll Ref.","Yaw Ref.","data1","data2","data3"],"range":[[1,0],[1,0],[1,0],[9,3,2,3],[9,3,2,3],[9,3,2,3]]},"legend":{"title":null,"legendX":232,"legendY":8,"rowPadding":2,"labelOffset":37,"symbolStrokeWidth":{"expr":"indexof(['data1','data2','data3'], datum.value) >= 0 ? 2.5 : 1"}}},
  "strokeWidth":{"field":"s","type":"nominal","scale":{"domain":["Pitch Ref.","Roll Ref.","Yaw Ref.","data1","data2","data3"],"range":[1,1,1,2.5,2.5,2.5]},"legend":null}
 }
},
{
 "width":340,"height":134,
 "data":{"name":"phi"},
 "transform":[{"fold":["E","N","U"],"as":["k","v"]}],
 "mark":{"type":"line","clip":true,"strokeWidth":2.5,"strokeDash":[9,3,2,3]},
 "encoding":{
  "x":{"field":"t","type":"quantitative","scale":{"domain":[0,3000],"nice":false,"zero":false},"axis":{"values":[0,500,1000,1500,2000,2500,3000],"format":"d","title":"t  / s"}},
  "y":{"field":"v","type":"quantitative","scale":{"domain":[-1.75,30],"nice":false,"zero":false},"axis":{"values":[0,10,20,30],"format":"d","title":"ϕ / ( ′ )"}},
  "color":{"field":"k","type":"nominal","scale":{"domain":["E","N","U"],"range":["#0072BD","#D95319","#EDB120"]},"legend":{"title":null,"legendX":265,"legendY":8,"rowPadding":8,"labelExpr":"'ϕ' + datum.label","symbolDash":[9,3,2,3],"symbolStrokeWidth":2.5}}
 }
},
{
 "width":340,"height":134,
 "data":{"name":"vel"},
 "encoding":{
  "x":{"field":"t","type":"quantitative","scale":{"domain":[0,3000],"nice":false,"zero":false},"axis":{"values":[0,500,1000,1500,2000,2500,3000],"format":"d","title":"t  / s"}},
  "y":{"field":"v","type":"quantitative","scale":{"domain":[-10,10],"nice":false},"axis":{"values":[-10,-5,0,5,10],"format":"d","title":"V / ( m/s )"}}
 },
 "layer":[
  {"transform":[{"filter":"datum.s != 'S'"}],"mark":{"type":"line","clip":true,"strokeWidth":1},"encoding":{"color":{"field":"s","type":"nominal","scale":{"domain":["VE","VN","VU"],"range":["#EDB120","#D95319","#EDB120"]},"legend":null}}},
  {"mark":{"type":"line","clip":true,"strokeWidth":2.5,"strokeDash":[9,3,2,3]},"encoding":{"color":{"field":"s","type":"nominal","scale":{"domain":["VE","VN","VU","S"],"range":["#77AC30","#4DBEEE","#A2142F","#0072BD"]},"legend":null}}}
 ],
 "resolve":{"scale":{"color":"independent"}}
},
{
 "width":340,"height":134,
 "data":{"name":"dv"},
 "transform":[{"fold":["E","N","U"],"as":["k","v"]}],
 "mark":{"type":"line","clip":true,"strokeWidth":2.5,"strokeDash":[9,3,2,3]},
 "encoding":{
  "x":{"field":"t","type":"quantitative","scale":{"domain":[0,3000],"nice":false,"zero":false},"axis":{"values":[0,500,1000,1500,2000,2500,3000],"format":"d","title":"t  / s"}},
  "y":{"field":"v","type":"quantitative","scale":{"domain":[-0.05,0.15],"nice":false,"zero":false},"axis":{"values":[-0.05,0,0.05,0.1,0.15],"labelExpr":"format(datum.value, '.2~f')","title":"δ V / ( m/s )"}},
  "color":{"field":"k","type":"nominal","scale":{"domain":["E","N","U"],"range":["#0072BD","#D95319","#EDB120"]},"legend":{"title":null,"legendX":253,"legendY":8,"rowPadding":8.5,"labelExpr":"'δ V' + datum.label","symbolDash":[9,3,2,3],"symbolStrokeWidth":2.5}}
 }
},
{
 "width":340,"height":134,
 "data":{"name":"pos"},
 "encoding":{
  "x":{"field":"t","type":"quantitative","scale":{"domain":[0,3000],"nice":false,"zero":false},"axis":{"values":[0,500,1000,1500,2000,2500,3000],"format":"d","title":"t  / s"}},
  "y":{"field":"v","type":"quantitative","scale":{"domain":[-4260,20000],"nice":false,"zero":false},"axis":{"values":[0,5000,10000,15000,20000],"format":"d","title":"Δ P / m"}}
 },
 "layer":[
  {"mark":{"type":"line","clip":true,"strokeWidth":1},"encoding":{"color":{"field":"s","type":"nominal","scale":{"domain":["Pn","Pe","Pu"],"range":["#0072BD","#D95319","#EDB120"]},"legend":null}}},
  {"mark":{"type":"line","clip":true,"strokeWidth":2.5,"strokeDash":[9,3,2,3]},"encoding":{"color":{"field":"s","type":"nominal","scale":{"domain":["Pn","Pe","Pu"],"range":["#7E2F8E","#77AC30","#4DBEEE"]},"legend":null}}}
 ],
 "resolve":{"scale":{"color":"independent"}}
},
{
 "width":340,"height":134,
 "view":{"stroke":null},
 "data":{"name":"dp"},
 "transform":[{"fold":["L","l","H"],"as":["k","v"]}],
 "mark":{"type":"line","clip":true,"strokeWidth":2.5,"strokeDash":[9,3,2,3]},
 "encoding":{
  "x":{"field":"t","type":"quantitative","scale":{"domain":[0,3000],"nice":false,"zero":false},"axis":{"values":[0,500,1000,1500,2000,2500,3000],"format":"d","title":"t  / s"}},
  "y":{"field":"v","type":"quantitative","scale":{"domain":[-2,2.74],"nice":false,"zero":false},"axis":{"values":[-2,-1,0,1,2],"format":"d","title":"δ P / m"}},
  "color":{"field":"k","type":"nominal","scale":{"domain":["L","l","H"],"range":["#0072BD","#D95319","#EDB120"]},"legend":{"title":null,"legendX":263,"legendY":8,"rowPadding":2,"labelExpr":"datum.label == 'l' ? 'δ λ' : 'δ ' + datum.label","symbolDash":[9,3,2,3],"symbolStrokeWidth":2.5}}
 }
}
]
}
